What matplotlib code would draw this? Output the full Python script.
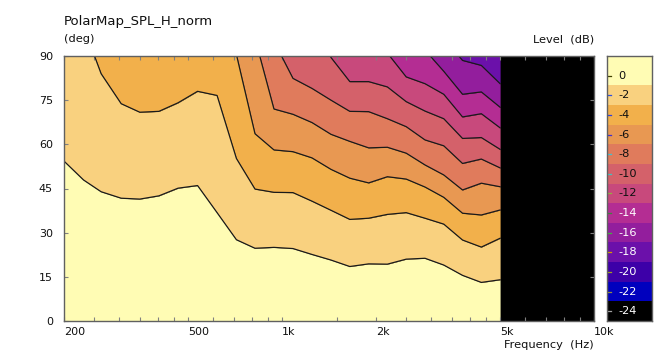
import numpy as np
import matplotlib
matplotlib.use("Agg")
import matplotlib.pyplot as plt
from matplotlib.ticker import NullFormatter
import matplotlib.transforms as mtrans

# frequency columns of the map (Hz)
freqs = [200, 231, 263, 305, 350, 403, 464, 536, 619, 714, 819, 942, 1084,
         1247, 1435, 1649, 1895, 2176, 2500, 2872, 3299, 3789, 4353, 5000]

# angle (deg) where each iso-level line crosses, per frequency column
# values above 90 are off the top of the map
iso_m1 = [54.3, 47.9, 43.9, 41.7, 41.4, 42.5, 45.1, 46.0, 36.8, 27.6, 24.7, 25.0, 24.6,
          22.6, 20.7, 18.5, 19.4, 19.3, 21.0, 21.3, 19.0, 15.5, 13.1, 14.0]
iso_m3 = [100, 100, 84.0, 73.8, 70.9, 71.2, 74.1, 78.0, 76.6, 55.2, 44.8, 43.7, 43.6,
          40.7, 37.6, 34.5, 34.9, 36.2, 36.8, 34.9, 32.9, 27.5, 25.1, 28.1]
iso_m5 = [100, 100, 100, 100, 100, 100, 100, 100, 100, 90.5, 63.6, 58.1, 57.5,
          55.4, 51.5, 48.5, 46.9, 49.0, 48.2, 45.5, 42.0, 36.6, 36.0, 37.7]
iso_m7 = [100, 100, 100, 100, 100, 100, 100, 100, 100, 100, 96.0, 72.0, 70.2,
          67.4, 63.4, 61.0, 58.8, 59.0, 57.0, 53.0, 49.6, 44.5, 46.8, 45.6]
iso_m9 = [100, 100, 100, 100, 100, 100, 100, 100, 100, 100, 100, 95.0, 82.4,
          79.0, 75.0, 71.2, 71.1, 68.7, 66.0, 61.5, 59.5, 53.5, 55.0, 52.0]
iso_m11 = [100, 100, 100, 100, 100, 100, 100, 100, 100, 100, 100, 100, 100,
           100, 89.5, 81.3, 81.3, 79.5, 74.5, 71.3, 68.7, 62.0, 62.3, 58.3]
iso_m13 = [100, 100, 100, 100, 100, 100, 100, 100, 100, 100, 100, 100, 100,
           100, 100, 100, 100, 91.0, 82.9, 80.6, 77.0, 69.3, 70.4, 65.6]
iso_m15 = [100, 100, 100, 100, 100, 100, 100, 100, 100, 100, 100, 100, 100,
           100, 100, 100, 100, 100, 100, 92.0, 84.8, 77.0, 77.8, 72.6]
iso_m17 = [100, 100, 100, 100, 100, 100, 100, 100, 100, 100, 100, 100, 100,
           100, 100, 100, 100, 100, 100, 100, 96.0, 88.5, 86.8, 80.6]

# colour scale
levels = [0, -2, -4, -6, -8, -10, -12, -14, -16, -18, -20, -22, -24]
level_colors = ['#FFFCB4', '#F9D17F', '#F2B04B', '#E89852', '#E07B5C', '#D4616A',
                '#C8497C', '#B42D93', '#931E9D', '#6B10AA', '#3D00A8', '#0000BE',
                '#000000']
mark_colors = ['#404000', '#3050e0', '#3040e0', '#4030d0', '#40c0d0', '#40c0c0',
               '#90b040', '#408040', '#40b040', '#d0a000', '#a0a020', '#909040',
               '#a0a0a0']

x_major = [200, 500, 1000, 2000, 5000, 10000]
x_major_labels = ['200', '500', '1k', '2k', '5k', '10k']
x_minor = [250, 300, 350, 400, 450, 600, 700, 800, 900, 1500, 2500, 3000, 3500,
           4000, 4500, 6000, 7000, 8000, 9000]
y_ticks = [0, 15, 30, 45, 60, 75, 90]

W, H = 665, 356
TXT = '#101010'
GRAY = '#606060'


def main():
    plt.rcParams['font.family'] = ['DejaVu Sans']
    fig = plt.figure(figsize=(W / 100, H / 100), dpi=100)

    ax = fig.add_axes([64 / W, 35 / H, 530 / W, 265 / H])
    ax.set_facecolor('black')
    ax.set_xscale('log')

    lines = [iso_m1, iso_m3, iso_m5, iso_m7, iso_m9, iso_m11, iso_m13, iso_m15, iso_m17]
    bounds = [np.zeros(len(freqs))] + [np.array(l) for l in lines] + [np.full(len(freqs), 90.0)]
    for i in range(len(bounds) - 1):
        ax.fill_between(freqs, bounds[i], bounds[i + 1], color=level_colors[i], lw=0)
    for l in lines:
        ax.plot(freqs, l, color='#1a1a1a', lw=0.9)

    ax.set_xlim(200, 10000)
    ax.set_ylim(0, 90)
    ax.set_xticks(x_major)
    ax.set_xticklabels(x_major_labels)
    ax.set_xticks(x_minor, minor=True)
    ax.xaxis.set_minor_formatter(NullFormatter())
    ax.set_yticks(y_ticks)
    ax.tick_params(which='both', direction='in', top=True, right=True, length=3,
                   width=0.8, color='#808080', labelsize=8, labelcolor=TXT)
    ax.tick_params(axis='x', pad=4)
    ax.tick_params(axis='y', pad=8)
    for lab in ax.get_xticklabels():
        lab.set_ha('left')
    for s in ax.spines.values():
        s.set_color(GRAY)
        s.set_linewidth(1)

    fig.text(64 / W, 1 - 21 / H, 'PolarMap_SPL_H_norm', fontsize=9.5, color=TXT,
             ha='left', va='center')
    fig.text(64 / W, 1 - 39 / H, '(deg)', fontsize=8.2, color=TXT, ha='left', va='center')
    fig.text(594 / W, 1 - 39 / H, 'Level  (dB)', fontsize=8.2, color=TXT,
             ha='right', va='center')
    fig.text(594 / W, 1 - 345 / H, 'Frequency  (Hz)', fontsize=8.2, color=TXT,
             ha='right', va='center')

    # colour bar
    cb = fig.add_axes([607 / W, 35 / H, 45 / W, 265 / H])
    bottoms = [lv - 1 for lv in levels]
    heights = [3 if lv == 0 else 2 for lv in levels]
    cb.bar(0.5, heights, bottom=bottoms, width=1, color=level_colors, lw=0)
    cb.set_xlim(0, 1)
    cb.set_ylim(-25, 2)
    cb.set_xticks([])
    cb.set_yticks([])
    for s in cb.spines.values():
        s.set_color(GRAY)
        s.set_linewidth(1)
    tr = mtrans.blended_transform_factory(cb.transAxes, cb.transData)
    for lv, mc in zip(levels, mark_colors):
        cb.plot([0, 0.08], [lv, lv], color=mc, lw=0.9, transform=tr)
        cb.text(0.25, lv, str(lv), transform=tr, fontsize=8.2, va='center', ha='left',
                color=TXT if lv > -14 else 'white')

    fig.savefig('out.png', dpi=100)


if __name__ == "__main__":
    main()
